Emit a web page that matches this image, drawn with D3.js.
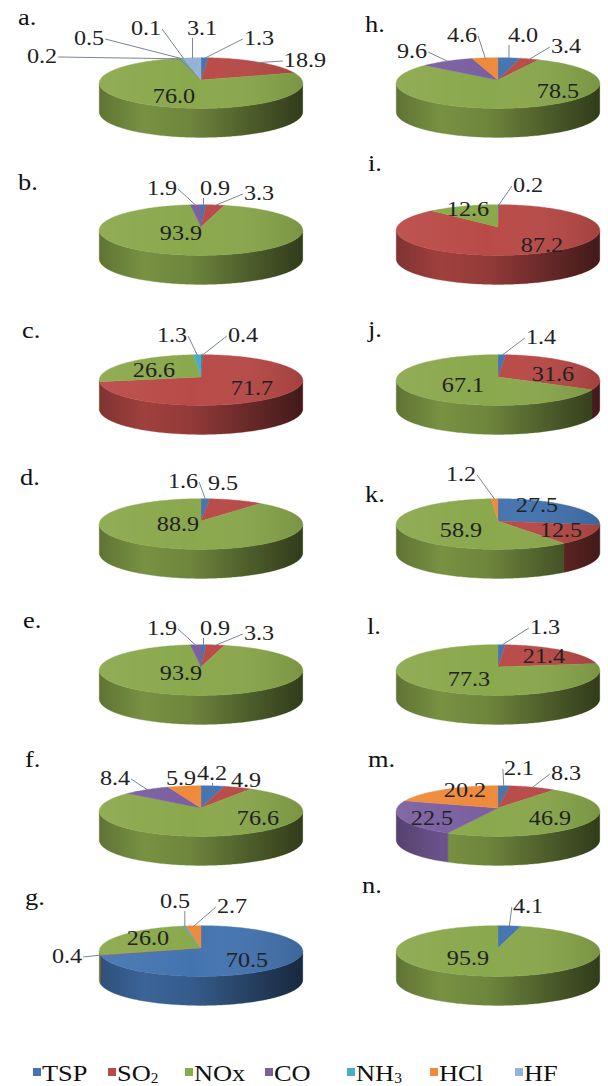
<!DOCTYPE html>
<html><head><meta charset="utf-8">
<script src="https://cdn.jsdelivr.net/npm/d3@7"></script>
<style>
html,body{margin:0;padding:0;background:#fff;overflow:hidden}
text{font-family:"Liberation Serif",Tinos,"Times New Roman",Times,serif}
</style>
</head><body><svg id="chart" width="608" height="1086"></svg>
<script>
// Pollutant categories (slice order, clockwise from 12 o'clock)
const pollutants = ["TSP", "SO2", "NOx", "CO", "NH3", "HCl", "HF"];
const panelLetters = ["a", "b", "c", "d", "e", "f", "g", "h", "i", "j", "k", "l", "m", "n"];

// Emission shares (%) for each panel, in pollutant order
const shareA = [1.3, 18.9, 76.0, 0.2, 0.5, 0.1, 3.1];
const shareB = [0.9, 3.3, 93.9, 1.9, 0, 0, 0];
const shareC = [0.4, 71.7, 26.6, 0, 1.3, 0, 0];
const shareD = [1.6, 9.5, 88.9, 0, 0, 0, 0];
const shareE = [0.9, 3.3, 93.9, 1.9, 0, 0, 0];
const shareF = [4.2, 4.9, 76.6, 8.4, 0, 5.9, 0];
const shareG = [70.5, 0.4, 26.0, 0, 0.5, 2.7, 0];
const shareH = [4.0, 3.4, 78.5, 9.6, 0, 4.6, 0];
const shareI = [0.2, 87.2, 12.6, 0, 0, 0, 0];
const shareJ = [1.4, 31.6, 67.1, 0, 0, 0, 0];
const shareK = [27.5, 12.5, 58.9, 0, 0, 1.2, 0];
const shareL = [1.3, 21.4, 77.3, 0, 0, 0, 0];
const shareM = [2.1, 8.3, 46.9, 22.5, 0, 20.2, 0];
const shareN = [4.1, 0, 95.9, 0, 0, 0, 0];
const shares = [shareA, shareB, shareC, shareD, shareE, shareF, shareG,
                shareH, shareI, shareJ, shareK, shareL, shareM, shareN];

// ---- layout and style ----
const colors = ["#4474b0", "#b94a47", "#8aa84c", "#7b5fa0", "#4aacc5", "#ee8a3c", "#95b3d7"];
const colX = [201, 498];
const rowY = [80, 227, 377, 521, 667, 808, 948];
const RX = 101, RY = 25, PERSP = 0.12, DEPTH = 29;

// panel letter position relative to pie centre
const letterPos = [
  [-183, -55], [-183, -37], [-179, -39], [-181, -36], [-178, -39], [-176, -41], [-176, -43],
  [-133, -48], [-130, -56], [-130, -40], [-133, -19], [-131, -33], [-130, -41], [-136, -55]
];
// label placement per non-zero slice: [dx (text centre), dy (baseline), leader line]
const labelPos = [
  [[58, -35, 1], [104, -13, 1], [-27, 23, 0], [-159, -17, 1], [-112, -35, 1], [-55, -45, 1], [1, -45, 1]],
  [[14, -32, 1], [58, -27, 1], [-20, 13, 0], [-39, -32, 1]],
  [[42, -35, 1], [51, 18, 0], [-47, 0, 0], [-29, -35, 1]],
  [[-18, -33, 1], [22, -31, 0], [-23, 10, 0]],
  [[14, -32, 1], [58, -27, 1], [-20, 13, 0], [-39, -32, 1]],
  [[11, -28, 1], [45, -21, 0], [57, 17, 0], [-86, -23, 1], [-20, -23, 0]],
  [[46, 19, 0], [-134, 15, 1], [-53, -3, 0], [-26, -40, 1], [31, -35, 1]],
  [[25, -38, 1], [68, -27, 1], [60, 18, 0], [-86, -22, 1], [-36, -38, 1]],
  [[30, -35, 1], [44, 25, 0], [-30, -11, 0]],
  [[43, -33, 1], [55, 4, 0], [-35, 15, 0]],
  [[39, -9, 0], [63, 16, 0], [-37, 16, 0], [-37, -40, 1]],
  [[47, -33, 1], [46, -4, 0], [-29, 19, 0]],
  [[21, -33, 1], [68, -28, 1], [52, 17, 0], [-66, 17, 0], [-33, -11, 0]],
  [[30, -35, 1], [-30, 17, 0]]
];
const legendX = [33, 108, 185, 265, 347, 430, 515];
const LABEL_SIZE = 22, STRETCH = 1.1;

const svg = d3.select("#chart");
const defs = svg.append("defs");

const wallGrad = defs.append("linearGradient").attr("id", "wallShade");
[[0, 0.22], [0.22, 0.02], [0.45, 0.1], [0.75, 0.38], [1, 0.6]].forEach(([o, a]) =>
  wallGrad.append("stop").attr("offset", o).attr("stop-color", "#000").attr("stop-opacity", a));
const topGrad = defs.append("linearGradient").attr("id", "topShade");
[[0, "#fff", 0.06], [0.45, "#fff", 0.0], [1, "#000", 0.12]].forEach(([o, c, a]) =>
  topGrad.append("stop").attr("offset", o).attr("stop-color", c).attr("stop-opacity", a));

// projection of a point on the pie's top rim (angle clockwise from 12 o'clock)
function proj(cx, cy, ang, r) {
  const u = r * Math.sin(ang), v = r * Math.cos(ang);
  const f = 1 / (1 + PERSP * v);
  return [cx + RX * u * f, cy - RY * v * f];
}
function rimPoints(cx, cy, a0, a1, dy) {
  const n = Math.max(2, Math.ceil(Math.abs(a1 - a0) / (Math.PI / 180)));
  return d3.range(n + 1).map(i => {
    const p = proj(cx, cy, a0 + (a1 - a0) * i / n, 1);
    return [p[0], p[1] + dy];
  });
}
const line = d3.line();
const visLo = Math.acos(-PERSP), visHi = 2 * Math.PI - visLo;

const pie = d3.pie().sort(null).value(d => d).startAngle(0).endAngle(2 * Math.PI);

shares.forEach((vals, pi) => {
  const cx = colX[Math.floor(pi / 7)], cy = rowY[pi % 7];
  const g = svg.append("g").attr("class", "panel panel-" + panelLetters[pi]);
  const arcs = pie(vals).map((d, i) => ({ ...d, key: i })).filter(d => d.value > 0);

  // side walls (front half only)
  arcs.forEach(d => {
    const lo = Math.max(d.startAngle, visLo), hi = Math.min(d.endAngle, visHi);
    if (hi <= lo) return;
    const pts = rimPoints(cx, cy, lo, hi, 0).concat(rimPoints(cx, cy, hi, lo, DEPTH));
    g.append("path").attr("d", line(pts) + "Z")
      .attr("fill", d3.color(colors[d.key]).darker(0.35))
      .attr("stroke", d3.color(colors[d.key]).darker(0.35)).attr("stroke-width", 0.4);
  });
  const wallPts = rimPoints(cx, cy, visLo, visHi, 0).concat(rimPoints(cx, cy, visHi, visLo, DEPTH));
  g.append("path").attr("d", line(wallPts) + "Z").attr("fill", "url(#wallShade)");

  // top faces
  arcs.forEach(d => {
    const pts = [[cx, cy]].concat(rimPoints(cx, cy, d.startAngle, d.endAngle, 0));
    g.append("path").attr("d", line(pts) + "Z")
      .attr("fill", colors[d.key]).attr("stroke", colors[d.key]).attr("stroke-width", 0.4);
  });
  const topPts = rimPoints(cx, cy, 0, 2 * Math.PI, 0);
  g.append("path").attr("d", line(topPts) + "Z").attr("fill", "url(#topShade)");

  // value labels with leader lines
  arcs.forEach((d, li) => {
    const [dx, dy, leader] = labelPos[pi][li];
    const tx = cx + dx, ty = cy + dy;
    const txt = d.value.toFixed(1);
    const t = g.append("text")
      .attr("transform", `translate(${tx},${ty}) scale(${STRETCH},1)`)
      .attr("text-anchor", "middle")
      .attr("font-size", LABEL_SIZE)
      .attr("fill", "#222").text(txt);
    if (leader) {
      const hw = t.node().getComputedTextLength() * STRETCH / 2;
      const mid = (d.startAngle + d.endAngle) / 2;
      const e = proj(cx, cy, mid, 0.97);
      let s;
      if (Math.abs(e[0] - tx) < hw) s = [e[0], ty + 3];
      else s = [e[0] > tx ? tx + hw + 1 : tx - hw - 1, ty - 6];
      g.append("path").attr("d", line([s, e]))
        .attr("fill", "none").attr("stroke", "#7a8694").attr("stroke-width", 1);
    }
  });

  // panel letter
  svg.append("text")
    .attr("transform", `translate(${cx + letterPos[pi][0]},${cy + letterPos[pi][1]}) scale(${STRETCH},1)`)
    .attr("font-size", 24).attr("fill", "#111")
    .text(panelLetters[pi] + ".");
});

// legend
const legendParts = [["TSP", ""], ["SO", "2"], ["NOx", ""], ["CO", ""], ["NH", "3"], ["HCl", ""], ["HF", ""]];
const lg = svg.append("g").attr("class", "legend");
pollutants.forEach((p, i) => {
  const x = legendX[i];
  lg.append("rect").attr("x", x).attr("y", 1068).attr("width", 8).attr("height", 8).attr("fill", colors[i]);
  const t = lg.append("text")
    .attr("transform", `translate(${x + 9},1081) scale(${STRETCH},1)`)
    .attr("font-size", 24).attr("fill", "#111");
  t.append("tspan").text(legendParts[i][0]);
  if (legendParts[i][1]) t.append("tspan").attr("font-size", 14).attr("dy", 2).text(legendParts[i][1]);
});
</script></body></html>
